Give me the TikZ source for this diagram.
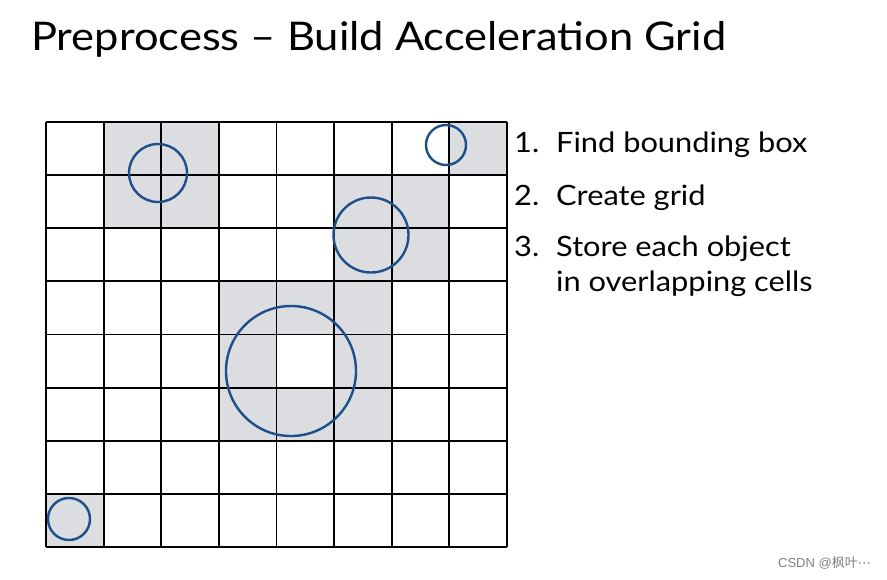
\documentclass[tikz,border=0pt]{standalone}
\usepackage{fontspec}
\setmainfont[FakeStretch=1.1]{Lato}
\newfontfamily\cjk{Noto Sans CJK SC}
\newfontfamily\wmfont{Liberation Sans}
\newfontfamily\dvfont{DejaVu Sans}
\definecolor{cellgray}{HTML}{DCDDE0}
\definecolor{objblue}{HTML}{1D4F8A}
\begin{document}
\begin{tikzpicture}[x=1pt,y=-1pt,
  gridline/.style={line width=1.9pt,black},
  obj/.style={line width=2.4pt,objblue},
  shade/.style={fill=cellgray},
  listtxt/.style={anchor=base west,inner sep=0pt,font=\fontsize{28}{32}\selectfont}]
\useasboundingbox (0,0) rectangle (887,579);
% shaded cells
\fill[shade] (104,122) rectangle (219,228);
\fill[shade] (449,122) rectangle (507,175);
\fill[shade] (334,175) rectangle (449,282);
\fill[shade] (219,282) rectangle (392,441);
\fill[white] (277,335) rectangle (334,388);
\fill[shade] (46,494) rectangle (104,547);
% grid
\foreach \x in {46,103.6,161.25,218.9,276.5,334.1,391.75,449.4,507}
  \draw[gridline] (\x,122) -- (\x,547);
\foreach \y in {122,175.1,228.25,281.4,334.5,387.6,440.75,493.9,547}
  \draw[gridline] (46,\y) -- (507,\y);
% objects
\draw[obj] (158,173) circle (29);
\draw[obj] (446,145) circle (20);
\draw[obj] (371,235) circle (37.5);
\draw[obj] (291,371) circle (65);
\draw[obj] (69,519) circle (21);
% text
\node[anchor=base west,inner sep=0pt,font=\fontsize{39.5}{44}\selectfont] (title) at (31,50) {Preprocess – Build Acceleration Grid};
\node[listtxt] (n1) at (514,152) {1.};
\node[listtxt] (t1) at (556,152) {Find bounding box};
\node[listtxt] (n2) at (514,205) {2.};
\node[listtxt] (t2) at (556,205) {Create grid};
\node[listtxt] (n3) at (514,256) {3.};
\node[listtxt] (t3) at (556,256) {Store each object};
\node[listtxt] (t4) at (556,291) {in overlapping cells};
\node[anchor=base east,inner sep=0pt,text=gray,font=\fontsize{13}{15}\selectfont] (wm) at (871,567) {\wmfont CSDN @\cjk 枫叶\dvfont ⋯};
\end{tikzpicture}
\end{document}
